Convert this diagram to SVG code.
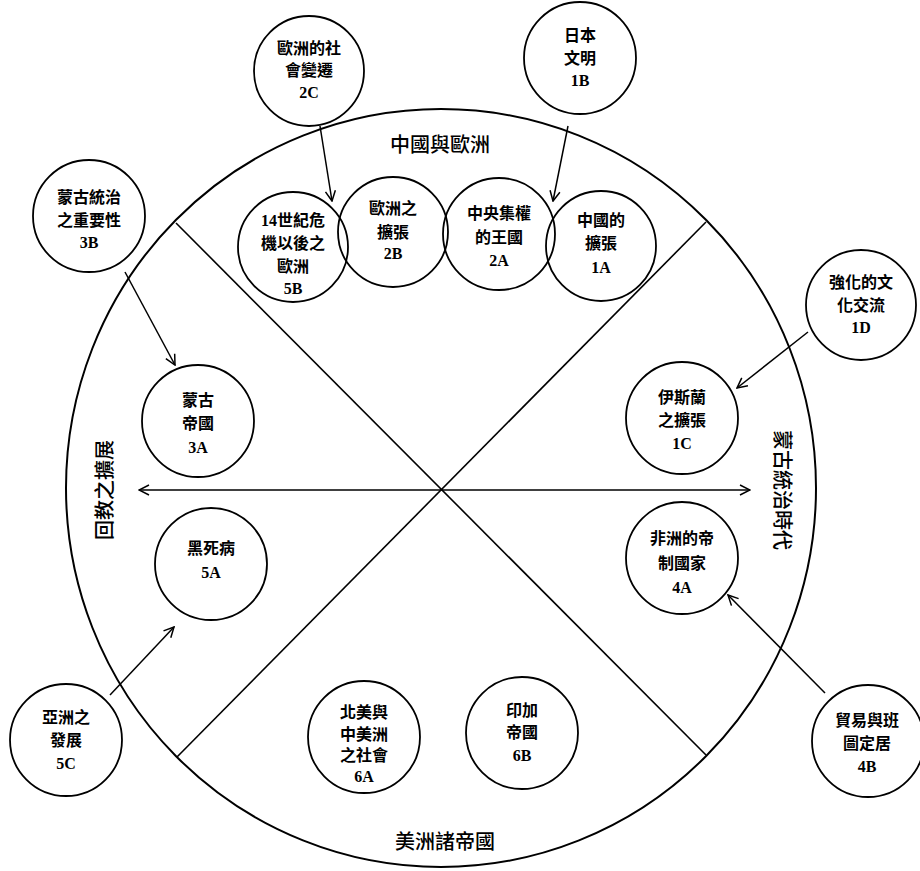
<svg xmlns="http://www.w3.org/2000/svg" width="920" height="871" viewBox="0 0 920 871">
<style>
.c{fill:none;stroke:#000;stroke-width:2}
.n{fill:none;stroke:#000;stroke-width:1.8}
.l{fill:none;stroke:#000;stroke-width:1.6}
.a{fill:none;stroke:#000;stroke-width:1.5;marker-end:url(#ah)}
text{font-family:"Liberation Serif","Noto Sans CJK TC",serif;fill:#000;text-anchor:middle}
.t{font-size:16px;font-weight:700}
.s{font-size:20px;font-weight:500}
</style>
<defs>
<marker id="ah" viewBox="0 0 12 12" refX="11" refY="6" markerWidth="12" markerHeight="12" markerUnits="userSpaceOnUse" orient="auto">
<path d="M1,1 L11,6 L1,11" fill="none" stroke="#000" stroke-width="1.5"/>
</marker>
<marker id="as" viewBox="0 0 12 12" refX="1" refY="6" markerWidth="12" markerHeight="12" markerUnits="userSpaceOnUse" orient="auto">
<path d="M11,1 L1,6 L11,11" fill="none" stroke="#000" stroke-width="1.5"/>
</marker>
</defs>
<rect width="920" height="871" fill="#fff"/>
<g id="frame">
<ellipse class="c" cx="441" cy="488" rx="375" ry="379"/>
<line class="l" x1="176" y1="223" x2="706" y2="755"/>
<line class="l" x1="706" y1="222" x2="177" y2="757"/>
<text class="s" x="440" y="152">中國與歐洲</text>
<text class="s" x="445" y="849">美洲諸帝國</text>
<text class="s" transform="translate(112,490) rotate(-90)">回教之擴展</text>
<text class="s" transform="translate(775,490) rotate(90)">蒙古統治時代</text>
</g>
<g id="connectors">
<line class="a" x1="320" y1="126" x2="332" y2="201"/>
<line class="a" x1="568" y1="126" x2="553" y2="201"/>
<line class="a" x1="125" y1="272" x2="175" y2="365"/>
<line class="a" x1="808" y1="332" x2="737" y2="388"/>
<line class="a" x1="825" y1="693" x2="728" y2="595"/>
<line class="a" x1="110" y1="695" x2="174" y2="627"/>
<line class="l" x1="139" y1="490" x2="750" y2="490" marker-start="url(#as)" marker-end="url(#ah)"/>
</g>
<g id="n2C"><circle class="n" cx="309" cy="71" r="55"/><text class="t" x="309" y="54">歐洲的社</text><text class="t" x="309" y="76">會變遷</text><text class="t" x="309" y="98">2C</text></g>
<g id="n1B"><circle class="n" cx="580" cy="58" r="56"/><text class="t" x="580" y="41">日本</text><text class="t" x="580" y="64">文明</text><text class="t" x="580" y="86">1B</text></g>
<g id="n3B"><circle class="n" cx="89" cy="216" r="56"/><text class="t" x="89" y="203">蒙古統治</text><text class="t" x="89" y="226">之重要性</text><text class="t" x="89" y="248">3B</text></g>
<g id="n1D"><circle class="n" cx="861" cy="305" r="55"/><text class="t" x="861" y="288">強化的文</text><text class="t" x="861" y="311">化交流</text><text class="t" x="861" y="333">1D</text></g>
<g id="n5C"><circle class="n" cx="66" cy="740" r="56"/><text class="t" x="66" y="723">亞洲之</text><text class="t" x="66" y="746">發展</text><text class="t" x="66" y="769">5C</text></g>
<g id="n4B"><circle class="n" cx="868" cy="741" r="56"/><text class="t" x="867" y="726">貿易與班</text><text class="t" x="867" y="749">圖定居</text><text class="t" x="867" y="772">4B</text></g>
<g id="n5B"><circle class="n" cx="293" cy="247" r="55"/><text class="t" x="293" y="226">14世紀危</text><text class="t" x="293" y="249">機以後之</text><text class="t" x="293" y="272">歐洲</text><text class="t" x="293" y="294">5B</text></g>
<g id="n2B"><circle class="n" cx="393" cy="232" r="55"/><text class="t" x="393" y="214">歐洲之</text><text class="t" x="393" y="238">擴張</text><text class="t" x="393" y="259">2B</text></g>
<g id="n2A"><circle class="n" cx="499" cy="234" r="56"/><text class="t" x="499" y="219">中央集權</text><text class="t" x="499" y="243">的王國</text><text class="t" x="499" y="266">2A</text></g>
<g id="n1A"><circle class="n" cx="601" cy="246" r="55"/><text class="t" x="601" y="226">中國的</text><text class="t" x="601" y="249">擴張</text><text class="t" x="601" y="273">1A</text></g>
<g id="n3A"><circle class="n" cx="198" cy="421" r="56"/><text class="t" x="198" y="406">蒙古</text><text class="t" x="198" y="429">帝國</text><text class="t" x="198" y="453">3A</text></g>
<g id="n1C"><circle class="n" cx="682" cy="418" r="56"/><text class="t" x="682" y="403">伊斯蘭</text><text class="t" x="682" y="426">之擴張</text><text class="t" x="682" y="449">1C</text></g>
<g id="n5A"><circle class="n" cx="211" cy="564" r="56"/><text class="t" x="211" y="554">黑死病</text><text class="t" x="211" y="578">5A</text></g>
<g id="n4A"><circle class="n" cx="682" cy="558" r="56"/><text class="t" x="682" y="544">非洲的帝</text><text class="t" x="682" y="569">制國家</text><text class="t" x="682" y="593">4A</text></g>
<g id="n6A"><circle class="n" cx="364" cy="737" r="56"/><text class="t" x="364" y="718">北美與</text><text class="t" x="364" y="740">中美洲</text><text class="t" x="364" y="761">之社會</text><text class="t" x="364" y="782">6A</text></g>
<g id="n6B"><circle class="n" cx="522" cy="733" r="56"/><text class="t" x="522" y="716">印加</text><text class="t" x="522" y="738">帝國</text><text class="t" x="522" y="761">6B</text></g>
</svg>
